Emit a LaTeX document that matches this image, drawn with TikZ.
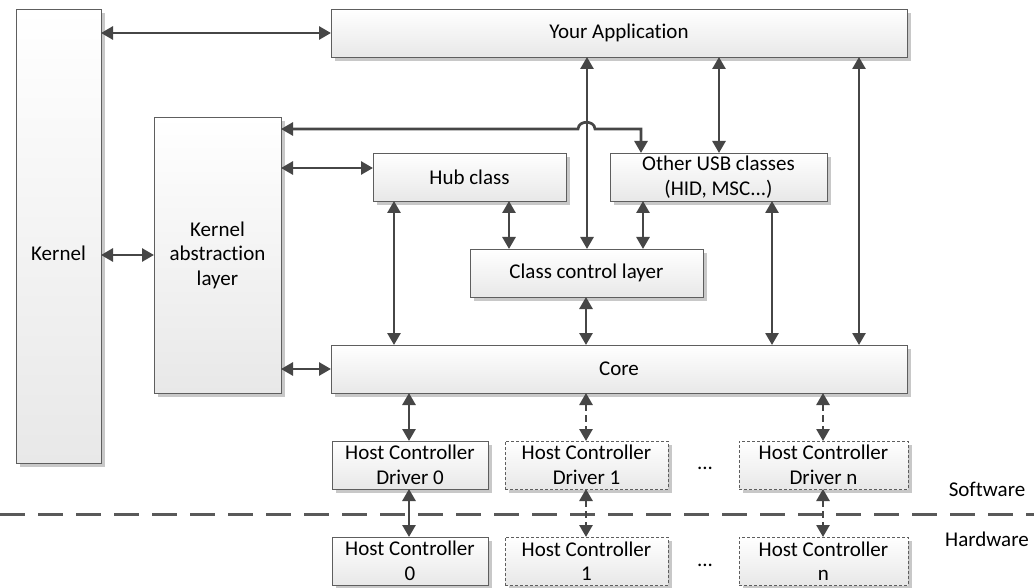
\documentclass[tikz,border=0pt]{standalone}
\usepackage{fontspec}
\setmainfont{Carlito}[Ligatures=NoCommon]
\usetikzlibrary{arrows.meta,shadows,calc}
\definecolor{edgegray}{HTML}{464646}
\definecolor{boxline}{HTML}{5E5E5E}
\definecolor{shadowgray}{HTML}{C8C8C8}
\tikzset{
  box/.style={draw=boxline, line width=0.8pt, top color=white, bottom color=black!9,
    align=center, inner sep=2pt, outer sep=0pt,
    font=\fontsize{21}{24.5}\selectfont,
    drop shadow={fill=shadowgray, opacity=1, shadow xshift=4pt, shadow yshift=-4pt}},
  dbox/.style={box, dash pattern=on 3pt off 2pt},
  arr/.style={draw=edgegray, line width=2.7pt, {Triangle[length=12pt,width=13pt]}-{Triangle[length=12pt,width=13pt]}},
  darr/.style={arr, dash pattern=on 7pt off 4pt},
  lbl/.style={font=\fontsize{21}{24.5}\selectfont, inner sep=0pt},
  sep/.style={draw=edgegray!90, line width=3pt, dash pattern=on 25pt off 13pt}
}
\begin{document}
\begin{tikzpicture}[x=1pt,y=-1pt]
\useasboundingbox (0,0) rectangle (1034,588);
% nodes
\node[box, minimum width=85pt, minimum height=454pt] (kernel) at (58.5,236) {};
\node[lbl] (kerneltext) at (58.5,253) {Kernel};
\node[box, minimum width=576pt, minimum height=48pt] (app) at (619,33) {Your Application};
\node[box, minimum width=127pt, minimum height=276pt] (kal) at (217.5,255) {Kernel\\abstraction\\layer};
\node[box, minimum width=193pt, minimum height=48pt] (hub) at (469.5,177) {Hub class};
\node[box, minimum width=217pt, minimum height=48pt] (other) at (718.5,177) {Other USB classes\\(HID, MSC...)};
\node[box, minimum width=233pt, minimum height=48pt] (ccl) at (586.5,273) {Class control layer};
\node[box, minimum width=576pt, minimum height=48pt] (core) at (619,369) {Core};
\node[box, minimum width=156pt, minimum height=48pt] (hcd0) at (410,465) {Host Controller\\Driver 0};
\node[dbox, minimum width=163pt, minimum height=48pt] (hcd1) at (586.5,465) {Host Controller\\Driver 1};
\node[dbox, minimum width=169pt, minimum height=48pt] (hcdn) at (823.5,465) {Host Controller\\Driver n};
\node[box, minimum width=156pt, minimum height=48pt] (hc0) at (410,561) {Host Controller\\0};
\node[dbox, minimum width=163pt, minimum height=48pt] (hc1) at (586.5,561) {Host Controller\\1};
\node[dbox, minimum width=169pt, minimum height=48pt] (hcn) at (823.5,561) {Host Controller\\n};
\node[lbl] (dots1) at (705,468) {...};
\node[lbl] (dots2) at (705,565) {...};
\node[lbl] (sw) at (987,489) {Software};
\node[lbl] (hw) at (987,539) {Hardware};
% separator
\coordinate (sepL) at (0,514);
\coordinate (sepR) at (1034,514);
\draw[sep] (sepL) -- (sepR);
% horizontal connectors
\draw[arr] (kernel.east |- 0,255) -- (kal.west);
\draw[arr] (kernel.east |- app.west) -- (app.west);
\draw[arr] (kal.east |- 0,168) -- (hub.west |- 0,168);
\draw[arr] (kal.east |- core.west) -- (core.west);
\draw[arr] (kal.east |- 0,129) -- (578,129) .. controls (578.5,120) and (594.5,120) .. (595,129) -- (641,129) -- (other.north -| 641,0);
% vertical connectors
\draw[arr] (app.south -| 587,0) -- (ccl.north -| 587,0);
\draw[arr] (app.south -| 719,0) -- (other.north -| 719,0);
\draw[arr] (app.south -| 859,0) -- (core.north -| 859,0);
\draw[arr] (hub.south -| 394,0) -- (core.north -| 394,0);
\draw[arr] (hub.south -| 509,0) -- (ccl.north -| 509,0);
\draw[arr] (other.south -| 643,0) -- (ccl.north -| 643,0);
\draw[arr] (other.south -| 772,0) -- (core.north -| 772,0);
\draw[arr] (ccl.south -| 586,0) -- (core.north -| 586,0);
\draw[arr] (core.south -| 409,0) -- (hcd0.north -| 409,0);
\draw[darr] (core.south -| 586,0) -- (hcd1.north -| 586,0);
\draw[darr] (core.south -| 823,0) -- (hcdn.north -| 823,0);
\draw[arr] (hcd0.south -| 409,0) -- (hc0.north -| 409,0);
\draw[darr] (hcd1.south -| 586,0) -- (hc1.north -| 586,0);
\draw[darr] (hcdn.south -| 823,0) -- (hcn.north -| 823,0);
\end{tikzpicture}
\end{document}
